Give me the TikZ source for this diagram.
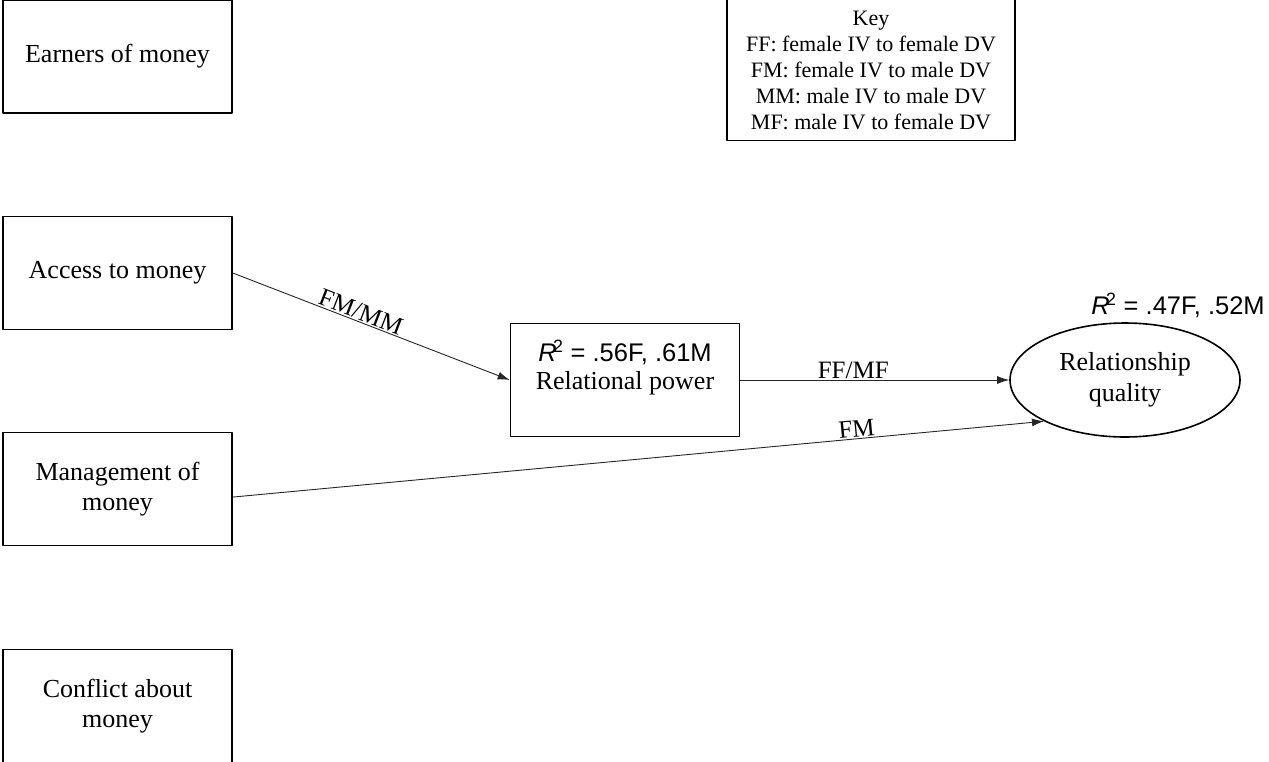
\documentclass[tikz,border=0pt]{standalone}
\usepackage{fontspec}
\setmainfont{Liberation Serif}
\newfontfamily\arialfont{Liberation Sans}
\usetikzlibrary{arrows.meta, shapes.geometric}

\newcommand{\rsq}{{\itshape R}\kern-3.5pt\textsuperscript{2}}

\begin{document}
\begin{tikzpicture}[
  x=1pt,y=-1pt,
  line join=round,
  >={Latex[length=12pt,width=8pt]},
  varbox/.style={draw=black,line width=1.6pt,minimum width=229pt,minimum height=113pt,
    align=center,font=\fontsize{26}{30.5}\selectfont},
  latent/.style={draw=black,line width=1.6pt,ellipse,minimum width=230pt,minimum height=114pt,
    align=center,font=\fontsize{26}{31}\selectfont},
  keybox/.style={draw=black,line width=1.6pt,minimum width=288pt,minimum height=141pt,
    align=center,font=\fontsize{22}{26}\selectfont},
  path/.style={draw=black!85,line width=0.9pt,->},
  plab/.style={font=\fontsize{25}{29}\selectfont,inner sep=1pt},
  rsq/.style={font=\arialfont\fontsize{25.5}{30}\selectfont,inner sep=0pt}
]
\useasboundingbox (0,0) rectangle (1269,761);

% predictors
\node[varbox] (earn) at (117.5,56.5) {Earners of money};
\node[varbox] (acc)  at (117.5,273)  {Access to money};
\node[varbox] (mgmt) at (117.5,489)  {Management of\\money};
\node[varbox] (conf) at (117.5,706)  {Conflict about\\money};

% mediator
\node[varbox] (rp) at (625,380) {};
\node[rsq] (rpr) at (625,352) {\rsq{} = .56F, .61M};
\node[font=\fontsize{26}{30}\selectfont,inner sep=0pt] (rpt) at (625,383) {Relational power};

% outcome
\node[latent] (rq) at (1125,380) {Relationship\\quality};
\node[rsq] (rqr) at (1178,305) {\rsq{} = .47F, .52M};

% key
\node[keybox] (key) at (871,70) {Key\\FF: female IV to female DV\\FM: female IV to male DV\\MM: male IV to male DV\\MF: male IV to female DV};

% paths
\draw[path] (acc.east) -- node[plab,pos=0.45,above,sloped] {FM/MM} (rp.west);
\draw[path] (rp.east) -- node[plab,pos=0.42,above] {FF/MF} (rq.west);
\draw[path] (mgmt.-4.5) -- node[plab,pos=0.77,above,sloped] {FM} (rq.207);

\end{tikzpicture}
\end{document}
